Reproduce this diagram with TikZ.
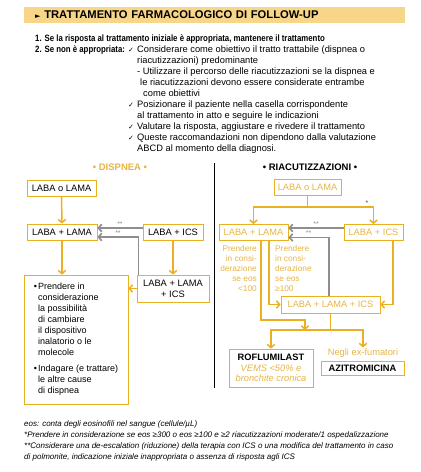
\documentclass[tikz,border=0pt]{standalone}
\usepackage{fontspec}
\setmainfont{Liberation Sans}
\newfontfamily\narrowfont[FakeStretch=0.85]{Liberation Sans}
\newfontfamily\symfont{DejaVu Sans}
\usetikzlibrary{arrows.meta}

\definecolor{head_yellow}{HTML}{F7D68A}
\definecolor{gold_line}{HTML}{EBB021}
\definecolor{gold_text}{HTML}{E6B545}
\definecolor{grey_arrow}{HTML}{8E8E8E}
\tikzstyle{drug_box}=[rectangle,
                        draw=gold_line,
                        line width=0.8pt,
                        minimum height=16pt,
                        inner sep=0pt,
                        font=\fontsize{9.3}{11}\selectfont, ]
\tikzstyle{gold_link}=[draw=gold_line, line width=1.5pt]
\tikzstyle{gold_arrow}=[gold_link, -{Straight Barb[length=3.2pt,width=7.5pt]}]
\tikzstyle{swap_arrow}=[draw=grey_arrow, line width=1.7pt, -{Straight Barb[length=3.2pt,width=7.5pt]}]
\tikzstyle{star_label}=[text=grey_arrow, inner sep=1pt, font=\fontsize{7}{7}\selectfont]
\tikzstyle{eos_label}=[inner sep=0pt, text=gold_text, font=\fontsize{8.3}{10}\selectfont]
\tikzstyle{foot_note}=[anchor=west, inner sep=0pt, font=\itshape\fontsize{8}{9}\selectfont]

\begin{document}
\begin{tikzpicture}[x=1pt, y=-1pt]
  \useasboundingbox (0,0) rectangle (421,472);

  % Header
  % -------------------------------------------------------------
  \node at (24,15) (title) [anchor=west, fill=head_yellow, minimum width=381pt, minimum height=16pt,
    text width=359pt, inner xsep=11pt, align=left, font=\bfseries\fontsize{11.2}{13}\selectfont]
    {{\symfont\fontsize{7}{9}\selectfont ►}\ TRATTAMENTO FARMACOLOGICO DI FOLLOW-UP};
  \node at (35,39) (step_1) [anchor=west, inner sep=0pt, font=\narrowfont\bfseries\fontsize{9.2}{11}\selectfont]
    {1. Se la risposta al trattamento iniziale è appropriata, mantenere il trattamento};
  \node at (35,50) (step_2) [anchor=west, inner sep=0pt, font=\narrowfont\bfseries\fontsize{9.2}{11}\selectfont]
    {2. Se non è appropriata:};
  \node at (128,45) (checklist) [anchor=north west, inner sep=0pt, font=\fontsize{9.3}{11}\selectfont] {%
    \begin{tabular}{@{}l@{}l@{}}
      \makebox[9pt][l]{\symfont\fontsize{7}{8}\selectfont ✓} & Considerare come obiettivo il tratto trattabile (dispnea o\\
      & riacutizzazioni) predominante\\
      & - Utilizzare il percorso delle riacutizzazioni se la dispnea e\\
      & \hspace{3pt}le riacutizzazioni devono essere considerate entrambe\\
      & \hspace{6pt}come obiettivi\\
      \makebox[9pt][l]{\symfont\fontsize{7}{8}\selectfont ✓} & Posizionare il paziente nella casella corrispondente\\
      & al trattamento in atto e seguire le indicazioni\\
      \makebox[9pt][l]{\symfont\fontsize{7}{8}\selectfont ✓} & Valutare la risposta, aggiustare e rivedere il trattamento\\
      \makebox[9pt][l]{\symfont\fontsize{7}{8}\selectfont ✓} & Queste raccomandazioni non dipendono dalla valutazione\\
      & ABCD al momento della diagnosi.
    \end{tabular}};

  % Dispnea
  % -------------------------------------------------------------
  \node at (120,167) (dispnea) [text=gold_text, font=\bfseries\fontsize{9.5}{11}\selectfont] {• DISPNEA •};
  \draw[line width=1pt] (214,163) -- (214,388);

  \node at (61.5,188) (lo_left) [drug_box, minimum width=69pt] {LABA o LAMA};
  \node at (62,232) (ll_left) [drug_box, minimum width=70pt] {LABA + LAMA};
  \node at (173,232) (li_left) [drug_box, minimum width=60pt] {LABA + ICS};
  \node at (173,288.5) (lli_left) [drug_box, minimum width=72pt, minimum height=27pt, align=center] {LABA + LAMA\\+ ICS};
  \node at (76,339.5) (advice) [drug_box, minimum width=104pt, minimum height=129pt, font=\fontsize{9}{11}\selectfont] {%
    \begin{tabular}{@{}l@{}l@{}}
      \textbullet\hspace{1pt} & Prendere in\\
      & considerazione\\
      & la possibilità\\
      & di cambiare\\
      & il dispositivo\\
      & inalatorio o le\\
      & molecole\\[5pt]
      \textbullet\hspace{1pt} & Indagare (e trattare)\\
      & le altre cause\\
      & di dispnea
    \end{tabular}};

  \draw[gold_arrow] (lo_left.south) -- (ll_left.north);
  \draw[gold_arrow] (ll_left.south) -- (ll_left.south |- advice.north);
  \draw[gold_arrow] (li_left.south) -- (lli_left.north);
  \draw[gold_arrow] (lli_left.west) -- (lli_left.west -| advice.east);
  \draw[swap_arrow] ([yshift=4pt]li_left.west) -- node[above, star_label] {**} ([yshift=4pt]li_left.west -| ll_left.east);
  \draw[swap_arrow] ([xshift=2pt]lli_left.north west) |- node[pos=0.75, above, star_label] {**} ([yshift=-5pt]ll_left.east);

  % Riacutizzazioni
  % -------------------------------------------------------------
  \node at (310,167) (riacut) [font=\bfseries\fontsize{9.5}{11}\selectfont] {• RIACUTIZZAZIONI •};

  \node at (307.5,187) (lo_right) [drug_box, text=gold_text, minimum width=67pt] {LABA o LAMA};
  \node at (253.5,232.5) (ll_right) [drug_box, text=gold_text, minimum width=69pt] {LABA + LAMA};
  \node at (373.5,232.5) (li_right) [drug_box, text=gold_text, minimum width=59pt] {LABA + ICS};
  \node at (330.5,304.5) (lli_right) [drug_box, text=gold_text, minimum width=99pt, minimum height=17pt] {LABA + LAMA + ICS};
  \node at (271,368) (roflu) [drug_box, minimum width=84pt, minimum height=38pt, align=center, font=\fontsize{9.3}{10.5}\selectfont]
    {\textbf{ROFLUMILAST}\\{\itshape\color{gold_text}VEMS <50\% e}\\{\itshape\color{gold_text}bronchite cronica}};
  \node at (363,353) (ex_smokers) [inner sep=1pt, text=gold_text, font=\fontsize{9.3}{11}\selectfont] {Negli ex-fumatori};
  \node at (362.5,368) (azitro) [drug_box, minimum width=83pt, minimum height=14pt, font=\bfseries\fontsize{9.3}{11}\selectfont] {AZITROMICINA};

  \node at (257,245) (low_eos) [eos_label, anchor=north east, align=right] {Prendere\\in consi-\\derazione\\se eos\\<100};
  \node at (275,245) (high_eos) [eos_label, anchor=north west, align=left] {Prendere\\in consi-\\derazione\\se eos\\≥100};

  \coordinate (split) at (307.5,207);
  \coordinate (merge) at (305,320);
  \coordinate (fork) at (330.5,330);

  \draw[gold_link] (lo_right.south) -- (split);
  \draw[gold_arrow] (split) -| (ll_right.north);
  \draw[gold_arrow] (split) -| node[pos=0.45, above, star_label, text=black!70] {*} (li_right.north);
  \draw[swap_arrow] ([yshift=4.5pt]li_right.west) -- node[above, star_label] {**} ([yshift=4.5pt]li_right.west -| ll_right.east);
  \draw[swap_arrow] ([xshift=-1.5pt]lli_right.north) |- node[pos=0.75, above, star_label] {**} ([yshift=-5pt]ll_right.east);
  \draw[gold_arrow] ([xshift=7.5pt]ll_right.south) |- (merge) -- (merge |- fork);
  \draw[gold_arrow] ([xshift=15.5pt]ll_right.south) |- (lli_right.west);
  \draw[gold_arrow] ([xshift=19.5pt]li_right.south) |- (lli_right.east);
  \draw[gold_link] (lli_right.south) -- (fork);
  \draw[gold_arrow] (fork) -| (roflu.north);
  \draw[gold_arrow] (fork) -| (ex_smokers.north);

  % Note
  % -------------------------------------------------------------
  \node at (24,424) (fn_eos) [foot_note] {eos: conta degli eosinofili nel sangue (cellule/µL)};
  \node at (24,435) (fn_star) [foot_note] {*Prendere in considerazione se eos ≥300 o eos ≥100 e ≥2 riacutizzazioni moderate/1 ospedalizzazione};
  \node at (24,446) (fn_stars) [foot_note] {**Considerare una de-escalation (riduzione) della terapia con ICS o una modifica del trattamento in caso};
  \node at (24,457) (fn_stars_b) [foot_note] {di polmonite, indicazione iniziale inappropriata o assenza di risposta agli ICS};
\end{tikzpicture}
\end{document}
